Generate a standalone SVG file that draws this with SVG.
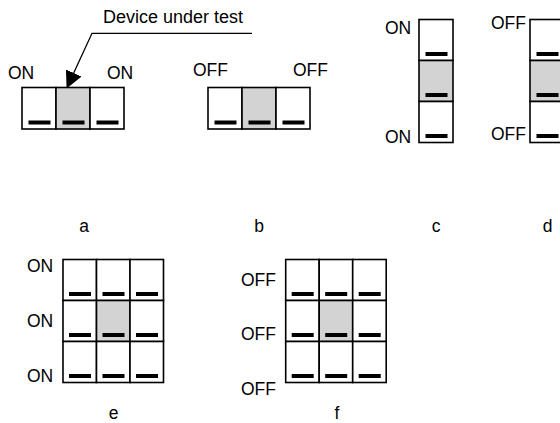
<svg xmlns="http://www.w3.org/2000/svg" width="560" height="423" viewBox="0 0 560 423">
<style>
  .c { fill: #ffffff; stroke: #000; stroke-width: 1.6; }
  .g { fill: #d3d3d3; stroke: #000; stroke-width: 1.6; }
  .b { fill: #000; stroke: none; }
  text { font-family: "Liberation Sans", Arial, sans-serif; font-size: 17.5px; fill: #000; }
  .m { text-anchor: middle; }
  .ln { fill: none; stroke: #000; stroke-width: 1.3; }
</style>
<defs>
  <marker id="ah" markerUnits="userSpaceOnUse" markerWidth="17" markerHeight="17" viewBox="0 0 16 16" refX="0" refY="8" orient="auto">
    <path d="M0,0 L16,8 L0,16 Z" fill="#000"/>
  </marker>
</defs>
<rect x="0" y="0" width="560" height="423" fill="#fff"/>

<g id="connectors">
  <polyline class="ln" points="252,33.3 92,33.3 73.7,73" marker-end="url(#ah)"/>
  <text x="103" y="22.7" style="font-size:18px">Device under test</text>
</g>

<g id="panel-a">
  <rect class="c" x="22" y="87.5" width="34" height="41.5"/>
  <rect class="g" x="56" y="87.5" width="34" height="41.5"/>
  <rect class="c" x="90" y="87.5" width="34" height="41.5"/>
  <rect class="b" x="28.5" y="120.5" width="22" height="4"/>
  <rect class="b" x="62.5" y="120.5" width="22" height="4"/>
  <rect class="b" x="96.5" y="120.5" width="22" height="4"/>
  <text x="8" y="79">ON</text>
  <text x="107" y="79">ON</text>
  <text class="m" x="84" y="232">a</text>
</g>

<g id="panel-b">
  <rect class="c" x="208" y="87.5" width="34" height="41.5"/>
  <rect class="g" x="242" y="87.5" width="34" height="41.5"/>
  <rect class="c" x="276" y="87.5" width="34" height="41.5"/>
  <rect class="b" x="214.5" y="120.5" width="22" height="4"/>
  <rect class="b" x="248.5" y="120.5" width="22" height="4"/>
  <rect class="b" x="282.5" y="120.5" width="22" height="4"/>
  <text x="193" y="76">OFF</text>
  <text x="293" y="76">OFF</text>
  <text class="m" x="259" y="232">b</text>
</g>

<g id="panel-c">
  <rect class="c" x="419" y="19.5" width="34" height="41"/>
  <rect class="g" x="419" y="60.5" width="34" height="41"/>
  <rect class="c" x="419" y="101.5" width="34" height="41"/>
  <rect class="b" x="425.5" y="52" width="22" height="4"/>
  <rect class="b" x="425.5" y="93" width="22" height="4"/>
  <rect class="b" x="425.5" y="134" width="22" height="4"/>
  <text x="385" y="34">ON</text>
  <text x="385" y="143">ON</text>
  <text class="m" x="436" y="232">c</text>
</g>

<g id="panel-d">
  <rect class="c" x="530" y="19.5" width="34" height="41"/>
  <rect class="g" x="530" y="60.5" width="34" height="41"/>
  <rect class="c" x="530" y="101.5" width="34" height="41"/>
  <rect class="b" x="536.5" y="52" width="22" height="4"/>
  <rect class="b" x="536.5" y="93" width="22" height="4"/>
  <rect class="b" x="536.5" y="134" width="22" height="4"/>
  <text x="491" y="29">OFF</text>
  <text x="491" y="140">OFF</text>
  <text class="m" x="547.5" y="232">d</text>
</g>

<g id="panel-e">
  <rect class="c" x="63" y="259.5" width="33.5" height="41"/>
  <rect class="c" x="96.5" y="259.5" width="33.5" height="41"/>
  <rect class="c" x="130" y="259.5" width="33.5" height="41"/>
  <rect class="c" x="63" y="300.5" width="33.5" height="41"/>
  <rect class="g" x="96.5" y="300.5" width="33.5" height="41"/>
  <rect class="c" x="130" y="300.5" width="33.5" height="41"/>
  <rect class="c" x="63" y="341.5" width="33.5" height="41"/>
  <rect class="c" x="96.5" y="341.5" width="33.5" height="41"/>
  <rect class="c" x="130" y="341.5" width="33.5" height="41"/>
  <rect class="b" x="69" y="292" width="22" height="4"/>
  <rect class="b" x="102.5" y="292" width="22" height="4"/>
  <rect class="b" x="136" y="292" width="22" height="4"/>
  <rect class="b" x="69" y="333" width="22" height="4"/>
  <rect class="b" x="102.5" y="333" width="22" height="4"/>
  <rect class="b" x="136" y="333" width="22" height="4"/>
  <rect class="b" x="69" y="374" width="22" height="4"/>
  <rect class="b" x="102.5" y="374" width="22" height="4"/>
  <rect class="b" x="136" y="374" width="22" height="4"/>
  <text x="27" y="272">ON</text>
  <text x="27" y="327">ON</text>
  <text x="27" y="382">ON</text>
  <text class="m" x="113.5" y="419">e</text>
</g>

<g id="panel-f">
  <rect class="c" x="285.7" y="259.5" width="33.5" height="41"/>
  <rect class="c" x="319.2" y="259.5" width="33.5" height="41"/>
  <rect class="c" x="352.7" y="259.5" width="33.5" height="41"/>
  <rect class="c" x="285.7" y="300.5" width="33.5" height="41"/>
  <rect class="g" x="319.2" y="300.5" width="33.5" height="41"/>
  <rect class="c" x="352.7" y="300.5" width="33.5" height="41"/>
  <rect class="c" x="285.7" y="341.5" width="33.5" height="41"/>
  <rect class="c" x="319.2" y="341.5" width="33.5" height="41"/>
  <rect class="c" x="352.7" y="341.5" width="33.5" height="41"/>
  <rect class="b" x="291.7" y="292" width="22" height="4"/>
  <rect class="b" x="325.2" y="292" width="22" height="4"/>
  <rect class="b" x="358.7" y="292" width="22" height="4"/>
  <rect class="b" x="291.7" y="333" width="22" height="4"/>
  <rect class="b" x="325.2" y="333" width="22" height="4"/>
  <rect class="b" x="358.7" y="333" width="22" height="4"/>
  <rect class="b" x="291.7" y="374" width="22" height="4"/>
  <rect class="b" x="325.2" y="374" width="22" height="4"/>
  <rect class="b" x="358.7" y="374" width="22" height="4"/>
  <text x="241" y="286">OFF</text>
  <text x="241" y="340">OFF</text>
  <text x="241" y="395">OFF</text>
  <text class="m" x="337" y="419">f</text>
</g>
</svg>
